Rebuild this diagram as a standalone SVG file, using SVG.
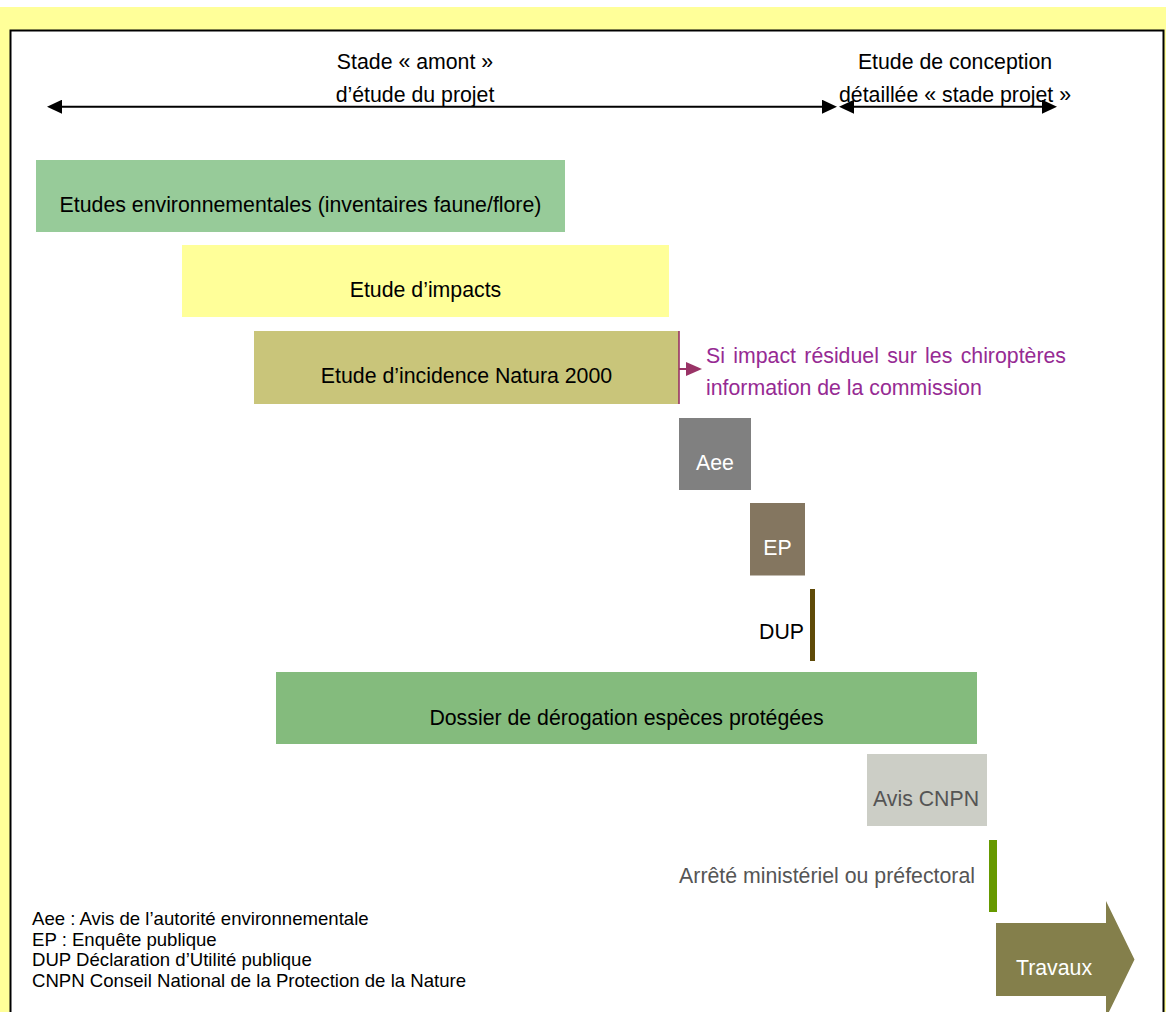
<svg xmlns="http://www.w3.org/2000/svg" width="1166" height="1012" viewBox="0 0 1166 1012">
  <style>
    text { font-family: "Liberation Sans", Arial, sans-serif; font-size: 21.3px; fill: #000; }
    .c { text-anchor: middle; }
    .r { text-anchor: end; }
    .w { fill: #ffffff; }
    .g { fill: #555555; }
    .p { fill: #962A93; }
    .leg { font-size: 18.6px; }
    .axis { stroke: #000; stroke-width: 2; fill: none; }
  </style>
  <defs>
    <marker id="ah" viewBox="0 0 15 14" refX="0" refY="7" markerWidth="15" markerHeight="14" markerUnits="userSpaceOnUse" orient="auto-start-reverse">
      <path d="M0,0 L15,7 L0,14 z" fill="#000"/>
    </marker>
    <marker id="ahp" viewBox="0 0 16 14" refX="0" refY="7" markerWidth="16" markerHeight="14" markerUnits="userSpaceOnUse" orient="auto">
      <path d="M0,0 L16,7 L0,14 z" fill="#993366"/>
    </marker>
  </defs>

  <rect id="background" x="0" y="7" width="1166" height="1005" fill="#FFFF99"/>
  <rect id="frame" x="10.5" y="30.5" width="1153" height="990" fill="#ffffff" stroke="#000" stroke-width="2"/>

  <g id="connectors">
    <path class="axis" d="M62,106.7 L822,106.7" marker-start="url(#ah)" marker-end="url(#ah)"/>
    <path class="axis" d="M854,106.7 L1042,106.7" marker-start="url(#ah)" marker-end="url(#ah)"/>
    <path d="M679,369 L686,369" stroke="#993366" stroke-width="2" fill="none" marker-end="url(#ahp)"/>
  </g>

  <g id="stage-upstream">
    <text class="c" x="415" y="69">Stade « amont »</text>
    <text class="c" x="415" y="101.5">d’étude du projet</text>
  </g>
  <g id="stage-project">
    <text class="c" x="955" y="69">Etude de conception</text>
    <text class="c" x="955" y="101.5">détaillée « stade projet »</text>
  </g>

  <g id="etudes-env">
    <rect x="36" y="160" width="529" height="72" fill="#97CB99"/>
    <text class="c" x="300.5" y="212">Etudes environnementales (inventaires faune/flore)</text>
  </g>
  <g id="etude-impacts">
    <rect x="182" y="245" width="487" height="72" fill="#FFFF99"/>
    <text class="c" x="425.5" y="297.3">Etude d’impacts</text>
  </g>
  <g id="natura2000">
    <rect x="254" y="331" width="425" height="73" fill="#C9C57A"/>
    <line x1="679" y1="331" x2="679" y2="404" stroke="#993366" stroke-width="1.6"/>
    <text class="c" x="466.5" y="383.3">Etude d’incidence Natura 2000</text>
  </g>
  <g id="chiropteres-note">
    <text class="p" x="706" y="363" word-spacing="2.4">Si impact résiduel sur les chiroptères</text>
    <text class="p" x="706" y="395">information de la commission</text>
  </g>

  <g id="aee">
    <rect x="679" y="418" width="72" height="72" fill="#808080"/>
    <text class="c w" x="715" y="470">Aee</text>
  </g>
  <g id="ep">
    <rect x="750" y="503" width="55" height="72.5" fill="#847660"/>
    <text class="c w" x="777.5" y="555">EP</text>
  </g>
  <g id="dup">
    <rect x="810" y="589" width="5" height="72" fill="#5F4A08"/>
    <text class="r" x="804" y="639">DUP</text>
  </g>

  <g id="derogation">
    <rect x="276" y="672" width="701" height="72" fill="#84BB7D"/>
    <text class="c" x="626.5" y="724.5">Dossier de dérogation espèces protégées</text>
  </g>
  <g id="avis-cnpn">
    <rect x="867" y="754" width="120" height="72" fill="#CCCEC6"/>
    <text class="c g" x="926" y="806">Avis CNPN</text>
  </g>
  <g id="arrete">
    <rect x="989" y="840" width="8" height="72" fill="#669900"/>
    <text class="r g" x="975" y="882.7">Arrêté ministériel ou préfectoral</text>
  </g>
  <g id="travaux">
    <path d="M996,923 L1106,923 L1106,901 L1134.5,959.5 L1106,1018 L1106,996 L996,996 z" fill="#847F4B"/>
    <text class="c w" x="1054" y="975">Travaux</text>
  </g>

  <g id="legend">
    <text class="leg" x="32" y="925">Aee : Avis de l’autorité environnementale</text>
    <text class="leg" x="32" y="945.5">EP : Enquête publique</text>
    <text class="leg" x="32" y="966">DUP Déclaration d’Utilité publique</text>
    <text class="leg" x="32" y="986.5">CNPN Conseil National de la Protection de la Nature</text>
  </g>
</svg>
